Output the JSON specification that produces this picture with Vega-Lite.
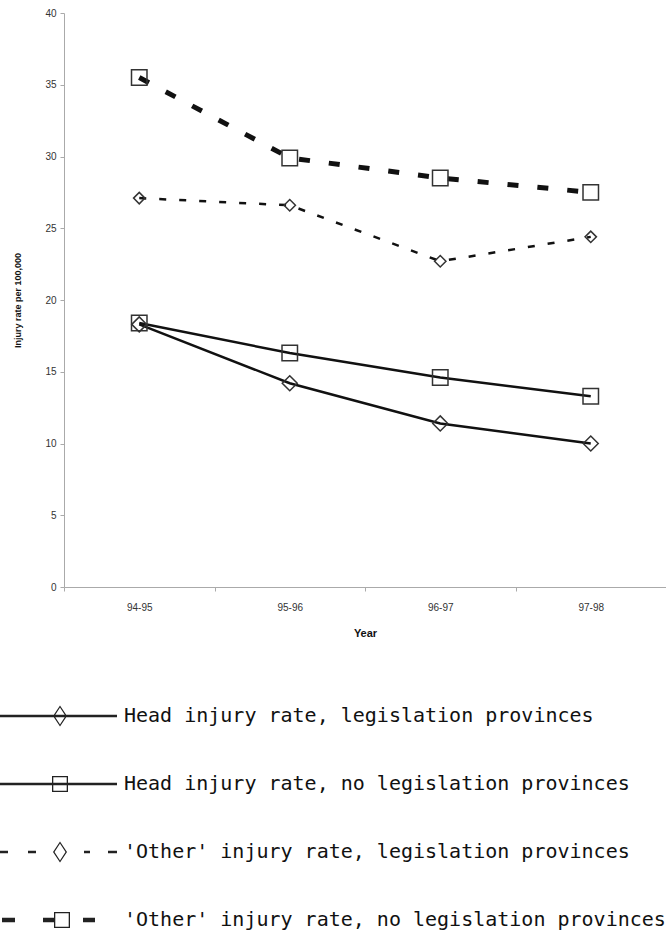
{
  "$schema": "https://vega.github.io/schema/vega-lite/v6.json",
  "autosize": {"type": "none"},
  "padding": {"left": 64, "top": 13, "right": 0, "bottom": 345},
  "width": 602,
  "height": 574,
  "background": "white",
  "config": {
    "view": {"stroke": null},
    "axis": {
      "labelFont": "Liberation Sans",
      "labelFontSize": 10,
      "labelColor": "#333",
      "titleFont": "Liberation Sans",
      "titleColor": "#111",
      "domainColor": "#aaa",
      "tickColor": "#aaa",
      "tickSize": 4,
      "grid": false
    }
  },
  "data": {
    "values": [
      {"series": "Head injury rate, legislation provinces", "year": "94-95", "rate": 18.3},
      {"series": "Head injury rate, legislation provinces", "year": "95-96", "rate": 14.2},
      {"series": "Head injury rate, legislation provinces", "year": "96-97", "rate": 11.4},
      {"series": "Head injury rate, legislation provinces", "year": "97-98", "rate": 10.0},
      {"series": "Head injury rate, no legislation provinces", "year": "94-95", "rate": 18.4},
      {"series": "Head injury rate, no legislation provinces", "year": "95-96", "rate": 16.3},
      {"series": "Head injury rate, no legislation provinces", "year": "96-97", "rate": 14.6},
      {"series": "Head injury rate, no legislation provinces", "year": "97-98", "rate": 13.3},
      {"series": "'Other' injury rate, legislation provinces", "year": "94-95", "rate": 27.1},
      {"series": "'Other' injury rate, legislation provinces", "year": "95-96", "rate": 26.6},
      {"series": "'Other' injury rate, legislation provinces", "year": "96-97", "rate": 22.7},
      {"series": "'Other' injury rate, legislation provinces", "year": "97-98", "rate": 24.4},
      {"series": "'Other' injury rate, no legislation provinces", "year": "94-95", "rate": 35.5},
      {"series": "'Other' injury rate, no legislation provinces", "year": "95-96", "rate": 29.9},
      {"series": "'Other' injury rate, no legislation provinces", "year": "96-97", "rate": 28.5},
      {"series": "'Other' injury rate, no legislation provinces", "year": "97-98", "rate": 27.5}
    ]
  },
  "encoding": {
    "x": {
      "field": "year", "type": "nominal",
      "scale": {"type": "band", "domain": ["94-95", "95-96", "96-97", "97-98"], "paddingInner": 0, "paddingOuter": 0},
      "axis": {"title": "Year", "labelAngle": 0, "tickBand": "extent", "labelPadding": 11, "titleFontSize": 11, "titleFontWeight": "bold", "titlePadding": 15}
    },
    "y": {
      "field": "rate", "type": "quantitative",
      "scale": {"domain": [0, 40], "nice": false, "zero": true},
      "axis": {"title": "Injury rate per 100,000", "values": [0, 5, 10, 15, 20, 25, 30, 35, 40], "labelPadding": 4, "titleFontSize": 9, "titleFontWeight": "bold", "titlePadding": 22}
    }
  },
  "layer": [
    {
      "transform": [{"filter": "datum.series === 'Head injury rate, legislation provinces' || datum.series === 'Head injury rate, no legislation provinces'"}],
      "mark": {"type": "line", "color": "#111", "strokeWidth": 2.5},
      "encoding": {"detail": {"field": "series", "type": "nominal"}}
    },
    {
      "transform": [{"filter": "datum.series === \"'Other' injury rate, legislation provinces\""}],
      "mark": {"type": "line", "color": "#111", "strokeWidth": 2.5, "strokeDash": [7, 13], "strokeCap": "butt"},
      "encoding": {}
    },
    {
      "transform": [{"filter": "datum.series === \"'Other' injury rate, no legislation provinces\""}],
      "mark": {"type": "line", "color": "#111", "strokeWidth": 5, "strokeDash": [11, 19], "strokeCap": "butt"},
      "encoding": {}
    },
    {
      "transform": [{"filter": "datum.series === 'Head injury rate, legislation provinces'"}],
      "mark": {"type": "point", "shape": "diamond", "size": 225, "filled": false, "stroke": "#333", "strokeWidth": 1.5, "opacity": 1}
    },
    {
      "transform": [{"filter": "datum.series === \"'Other' injury rate, legislation provinces\""}],
      "mark": {"type": "point", "shape": "diamond", "size": 130, "filled": false, "stroke": "#333", "strokeWidth": 1.5, "opacity": 1}
    },
    {
      "transform": [{"filter": "datum.series === 'Head injury rate, no legislation provinces' || datum.series === \"'Other' injury rate, no legislation provinces\""}],
      "mark": {"type": "point", "shape": "square", "size": 240, "filled": false, "stroke": "#333", "strokeWidth": 1.5, "opacity": 1}
    },
    {
      "mark": {"type": "point", "filled": true, "fill": "#222", "strokeWidth": 0, "opacity": 0},
      "encoding": {
        "shape": {
          "field": "series", "type": "nominal",
          "scale": {
            "domain": ["Head injury rate, legislation provinces", "Head injury rate, no legislation provinces", "'Other' injury rate, legislation provinces", "'Other' injury rate, no legislation provinces"],
            "range": [
              "M-1,-0.125H10.7V0.125H-1Z M5,-1.05L5.7,0L5,1.05L4.3,0Z M5,-0.85L4.45,0L5,0.85L5.55,0Z",
              "M-1,-0.125H10.7V0.125H-1Z M4.2,-0.8H5.8V0.8H4.2Z M4.33,-0.67V0.67H5.67V-0.67Z",
              "M-1,-0.125H-0.2V0.125H-1Z M1.8,-0.125H2.6V0.125H1.8Z M7.4,-0.125H8V0.125H7.4Z M9.8,-0.125H10.7V0.125H9.8Z M5,-1.05L5.7,0L5,1.05L4.3,0Z M5,-0.85L4.45,0L5,0.85L5.55,0Z",
              "M-0.8,-0.23H0.5V0.23H-0.8Z M3.3,-0.23H4.5V0.23H3.3Z M7.3,-0.23H8.5V0.23H7.3Z M4.4,-0.8H6V0.8H4.4Z M4.53,-0.67V0.67H5.87V-0.67Z"
            ]
          },
          "legend": {
            "orient": "none",
            "legendX": -64,
            "legendY": 693,
            "title": null,
            "padding": 0,
            "direction": "vertical",
            "symbolSize": 400,
            "symbolOpacity": 1,
            "symbolFillColor": "#222",
            "symbolStrokeColor": "transparent",
            "symbolStrokeWidth": 0,
            "rowPadding": 47,
            "labelOffset": 104,
            "labelFont": "DejaVu Sans Mono",
            "labelFontSize": 20,
            "labelColor": "#111",
            "labelLimit": 700
          }
        }
      }
    }
  ]
}
